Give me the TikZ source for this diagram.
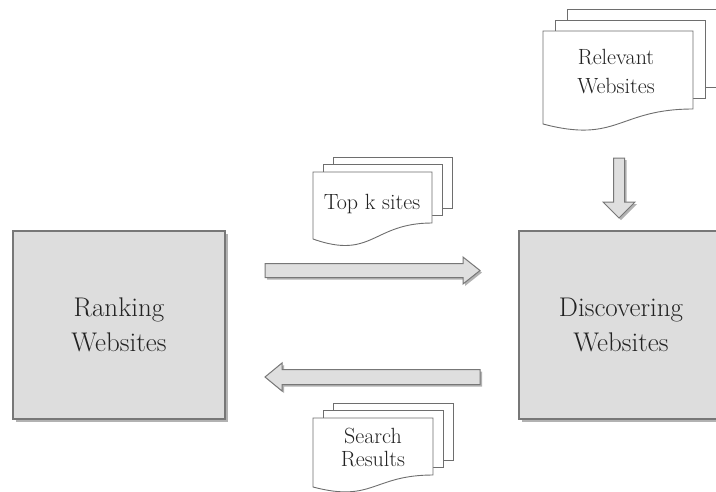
\documentclass[tikz,border=0pt]{standalone}
\usetikzlibrary{shadows}
\definecolor{boxfill}{HTML}{DDDDDD}
\definecolor{boxline}{HTML}{777777}
\definecolor{arrfill}{HTML}{DFDFDF}
\definecolor{pageline}{HTML}{6E6E6E}
\definecolor{txt}{HTML}{222222}
\newcommand\multidocshape[7]{%
  \foreach \k in {2,1}{%
    \draw[pagestyle] ({#1+\k*#6},{#2-\k*#7}) rectangle ({#1+#3+\k*#6},{#2+#4-#5-\k*#7});
  }
  \draw[pagestyle] (#1,#2) -- ({#1+#3},#2) -- ({#1+#3},{#2+#4-#5})
    .. controls ({#1+#3/2},{#2+#4-#5}) and ({#1+#3/2},{#2+#4-#5+2.32*#5}) .. (#1,{#2+#4}) -- cycle;
}
\begin{document}
\begin{tikzpicture}[x=1pt,y=-1pt,
  procbox/.style={draw=boxline, line width=1.3pt, fill=boxfill, inner sep=0pt,
    drop shadow={shadow xshift=2.5pt,shadow yshift=-2.5pt,opacity=0.3,fill=black}},
  blockarr/.style={draw=boxline, line width=1pt, fill=arrfill, line join=miter,
    drop shadow={shadow xshift=2pt,shadow yshift=-2pt,opacity=0.3,fill=black}},
  pagestyle/.style={draw=pageline, line width=0.9pt, fill=white},
  boxlbl/.style={font=\fontsize{27}{35}\selectfont, align=center, text=txt},
  doclbl/.style={font=\fontsize{22}{29}\selectfont, align=center, text=txt}]
\useasboundingbox (0,0) rectangle (716,491);

% main boxes
\node[procbox, boxlbl, minimum width=212pt, minimum height=188pt] (rank) at (119,325) {Ranking\\Websites};
\node[procbox, minimum width=260pt, minimum height=188pt] (disc) at (649,325) {};
\node[boxlbl] (disclbl) at (621,325) {Discovering\\Websites};

% documents
\multidocshape{543}{31}{150}{93}{15}{12}{11}
\node[doclbl] (rel) at (616,72) {Relevant\\Websites};

\multidocshape{313}{172}{119}{67}{16}{10}{7.5}
\node[doclbl] (topk) at (372,204) {Top k sites};

\multidocshape{313}{418}{120}{69}{12}{10}{7.5}
\node[doclbl, font=\fontsize{22}{23}\selectfont] (sres) at (373,447) {Search\\Results};

% block arrows
\draw[blockarr] (265,263.5) -- (463,263.5) -- (463,257) -- (480,270.5) -- (463,284) -- (463,277.5) -- (265,277.5) -- cycle;
\draw[blockarr] (480,369.5) -- (282,369.5) -- (282,363) -- (265,377) -- (282,391) -- (282,384.5) -- (480,384.5) -- cycle;
\draw[blockarr] (613.5,158) -- (624.5,158) -- (624.5,202) -- (635,202) -- (619,218) -- (603,202) -- (613.5,202) -- cycle;
\end{tikzpicture}
\end{document}
